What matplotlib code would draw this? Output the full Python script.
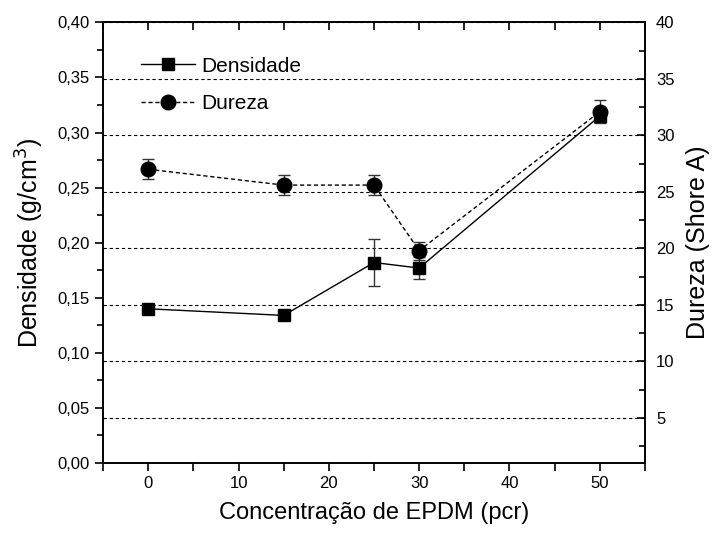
import matplotlib
matplotlib.use("Agg")
import matplotlib.pyplot as plt
from matplotlib.ticker import MultipleLocator, FuncFormatter

plt.rcParams['font.family'] = ['Liberation Sans', 'DejaVu Sans']

# data
conc = [0, 15, 25, 30, 50]
densidade = [0.140, 0.134, 0.182, 0.177, 0.315]
densidade_err = [0.003, 0.003, 0.021, 0.010, 0.005]
dureza = [27.0, 25.6, 25.6, 19.8, 32.1]
dureza_err = [0.9, 0.9, 0.9, 0.8, 1.0]

fig = plt.figure(figsize=(7.14, 5.36), dpi=100)
ax = fig.add_axes([0.1443, 0.1362, 0.759, 0.822])
ax2 = ax.twinx()

# dashed grid at right axis major ticks
ax2.set_ylim(1, 40)
ax2.yaxis.set_major_locator(MultipleLocator(5))
ax2.yaxis.set_minor_locator(MultipleLocator(2.5))
ax2.grid(axis='y', which='major', color='black', linestyle=(0, (3, 2.5)), linewidth=0.8)
ax2.set_axisbelow(True)

l1 = ax2.errorbar(
	conc, [d / 0.4 * 39 + 1 for d in densidade],
	yerr=[e / 0.4 * 39 for e in densidade_err],
	color='black', marker='s', markersize=9, linestyle='-', linewidth=1,
	ecolor='#333333', elinewidth=1, capsize=4)
l2 = ax2.errorbar(
	conc, dureza, yerr=dureza_err,
	color='black', marker='o', markersize=10.5, linestyle=(0, (3, 2)), linewidth=1,
	ecolor='#333333', elinewidth=1, capsize=4)

ax.set_xlim(-5, 55)
ax.set_ylim(0, 0.40)
ax.xaxis.set_major_locator(MultipleLocator(10))
ax.xaxis.set_minor_locator(MultipleLocator(5))
ax.yaxis.set_major_locator(MultipleLocator(0.05))
ax.yaxis.set_minor_locator(MultipleLocator(0.025))
ax.yaxis.set_major_formatter(FuncFormatter(lambda v, p: ("%.2f" % v).replace('.', ',')))

ax.tick_params(axis='x', which='both', direction='out', top=True, labelsize=12, width=1.2, length=6)
ax.tick_params(axis='y', which='major', direction='out', length=6, width=1.2, labelsize=12)
ax.tick_params(axis='y', which='minor', direction='out', length=4, width=1.2)
ax2.tick_params(axis='y', which='major', direction='in', length=6, width=1.2, labelsize=12, pad=8)
ax2.tick_params(axis='y', which='minor', direction='in', length=4, width=1.2)

# top ticks point inward
for t in ax.xaxis.get_major_ticks() + ax.xaxis.get_minor_ticks():
	t.tick2line.set_marker(3)

ax2.set_yticks([5, 10, 15, 20, 25, 30, 35, 40])

for s in ax.spines.values():
	s.set_linewidth(1.2)
for s in ax2.spines.values():
	s.set_linewidth(1.2)

ax.set_xlabel('Concentração de EPDM (pcr)', fontsize=17, labelpad=8)
ax.set_ylabel('Densidade (g/cm$^3$)', fontsize=18, labelpad=8)
ax2.set_ylabel('Dureza (Shore A)', fontsize=18, labelpad=8)

ax2.legend(
	handles=[l1[0], l2[0]], labels=['Densidade', 'Dureza'],
	loc='upper left', bbox_to_anchor=(0.035, 0.965),
	frameon=False, fontsize=15, handlelength=2.6, handletextpad=0.3,
	labelspacing=0.9)

fig.savefig('out.png', dpi=100)
